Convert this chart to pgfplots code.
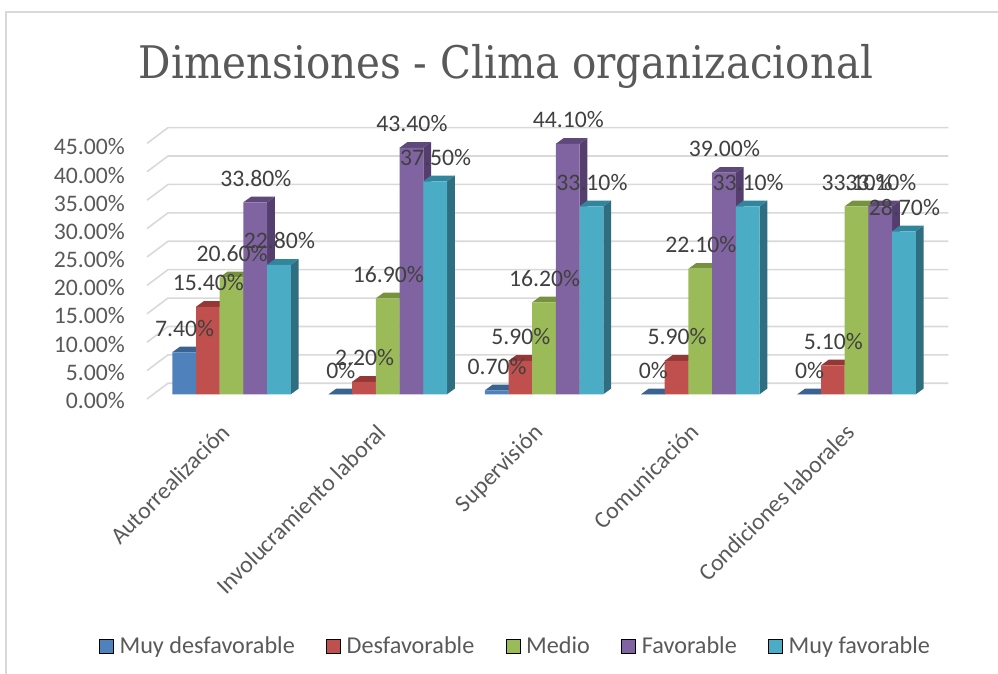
\documentclass[border=0pt]{standalone}
\usepackage{pgfplots}
\usepackage{pgfplotstable}
\usepackage{fontspec}
\pgfplotsset{compat=1.18}
\setmainfont{Carlito}
\newfontfamily\titlefont{DejaVu Serif Condensed}
\definecolor{gridc}{HTML}{D9D9D9}
\definecolor{framec}{HTML}{D9D9D9}
\definecolor{txtc}{HTML}{404040}
\definecolor{axc}{HTML}{595959}
\definecolor{bluef}{HTML}{4F81BD}\definecolor{bluet}{HTML}{3B6391}\definecolor{blues}{HTML}{2F4F75}
\definecolor{redf}{HTML}{C0504D}\definecolor{redt}{HTML}{953735}\definecolor{reds}{HTML}{7A2D2B}
\definecolor{greenf}{HTML}{9BBB59}\definecolor{greent}{HTML}{76923C}\definecolor{greens}{HTML}{5F7530}
\definecolor{purplef}{HTML}{8064A2}\definecolor{purplet}{HTML}{5F497A}\definecolor{purples}{HTML}{533E6E}
\definecolor{tealf}{HTML}{4BACC6}\definecolor{tealt}{HTML}{31859C}\definecolor{teals}{HTML}{2F6E80}
\pgfplotstableread{
gx    md    de    me    fa    mf
172.3 7.40  15.40 20.60 33.80 22.80
328.5 0     2.20  16.90 43.40 37.50
484.8 0.70  5.90  16.20 44.10 33.10
641.0 0     5.90  22.10 39.00 33.10
797.3 0     5.10  33.10 33.10 28.70
}\data
\newcommand\bw{23.7}
\newcommand\dxx{7.8}
\newcommand\dyy{1.0}
\newcommand\bars[3]{% column, series index, colour stem
  \pgfplotsforeachungrouped \r in {0,...,4}{%
    \pgfplotstablegetelem{\r}{#1}\of\data
    \pgfmathsetmacro\vv{\pgfplotsretval}%
    \pgfplotstablegetelem{\r}{gx}\of\data
    \pgfmathsetmacro\xl{\pgfplotsretval+#2*\bw}%
    \pgfmathsetmacro\xr{\xl+\bw}%
    \pgfmathsetmacro\xld{\xl+\dxx}%
    \pgfmathsetmacro\xrd{\xr+\dxx}%
    \pgfmathsetmacro\vd{\vv+\dyy}%
    \addplot[fill=#3s,draw=none,forget plot] coordinates {(\xr,0) (\xrd,\dyy) (\xrd,\vd) (\xr,\vv)};
    \addplot[fill=#3t,draw=none,forget plot] coordinates {(\xl,\vv) (\xld,\vd) (\xrd,\vd) (\xr,\vv)};
  }%
  \addplot[ybar,bar width=\bw pt,bar shift=0pt,fill=#3f,draw=none,forget plot]
    table[x expr=\thisrow{gx}+(#2+0.5)*\bw,y=#1]{\data};
}
\newcommand\labs[2]{%
  \addplot[draw=none,mark=none,forget plot,nodes near coords={\pgfplotspointmeta\%},
    point meta=explicit symbolic,
    every node near coord/.style={anchor=center,yshift=24pt,xshift=0.5pt,text=txtc,inner sep=0pt}]
    table[x expr=\thisrow{gx}+(#2+0.5)*\bw,y=#1,meta=#1]{\data};
}
\begin{document}
\begin{tikzpicture}[x=1pt,y=1pt]
\useasboundingbox (0,0) rectangle (998,-674);
\draw[framec,line width=1.5pt] (6,-674) -- (6,-12) -- (998,-12);
\begin{axis}[
  at={(147pt,-399pt)},anchor=south west,
  scale only axis,width=801.3pt,height=271.7pt,
  xmin=147,xmax=948.3,ymin=-0.83,ymax=47,
  clip=false,
  axis line style={draw=none},
  major tick length=0pt,tick style={draw=none},
  font=\fontsize{23.7}{28}\selectfont,
  ytick={-0.83,4.13,9.09,14.05,19.01,23.97,28.93,33.89,38.85,43.81},
  yticklabels={0.00\%,5.00\%,10.00\%,15.00\%,20.00\%,25.00\%,30.00\%,35.00\%,40.00\%,45.00\%},
  y tick label style={anchor=east,xshift=-22pt,yshift=-1.5pt,text=axc,inner sep=0pt},
  xtick={231.5,387.7,544,700.2,856.5},
  xticklabels={Autorrealización,Involucramiento laboral,Supervisión,Comunicación,Condiciones laborales},
  x tick label style={rotate=45,anchor=north east,text=axc,inner sep=0pt,yshift=-8.25pt,xshift=-24.75pt},
  title={\titlefont Dimensiones - Clima organizacional},
  title style={at={(0.448,1.203)},anchor=center,text=axc,font=\fontsize{44.9}{52}\selectfont,inner sep=0pt},
  legend style={at={(-0.0599,-0.908)},anchor=west,draw=none,fill=none,legend columns=-1,inner sep=0pt,
    font=\fontsize{24.2}{28}\selectfont,text=axc,
    /tikz/every odd column/.style={column sep=6pt},
    /tikz/every even column/.style={column sep=31.5pt},
    nodes={inner sep=0pt}},
  legend image code/.code={\fill[#1] (0pt,-7pt) rectangle (14pt,7pt);},
]
\pgfplotsforeachungrouped \g in {0,5,...,45}{%
  \pgfmathsetmacro\ga{\g-0.83}\pgfmathsetmacro\gb{\g+1.94}%
  \addplot[gridc,line width=1.6pt,mark=none,forget plot] coordinates {(147,\ga) (168,\gb) (948.3,\gb)};
}
\bars{md}{0}{blue}
\bars{de}{1}{red}
\bars{me}{2}{green}
\bars{fa}{3}{purple}
\bars{mf}{4}{teal}
\labs{md}{0}\labs{de}{1}\labs{me}{2}\labs{fa}{3}\labs{mf}{4}
\addlegendimage{fill=bluef}\addlegendentry{Muy desfavorable}
\addlegendimage{fill=redf}\addlegendentry{Desfavorable}
\addlegendimage{fill=greenf}\addlegendentry{Medio}
\addlegendimage{fill=purplef}\addlegendentry{Favorable}
\addlegendimage{fill=tealf}\addlegendentry{Muy favorable}
\end{axis}
\end{tikzpicture}
\end{document}
